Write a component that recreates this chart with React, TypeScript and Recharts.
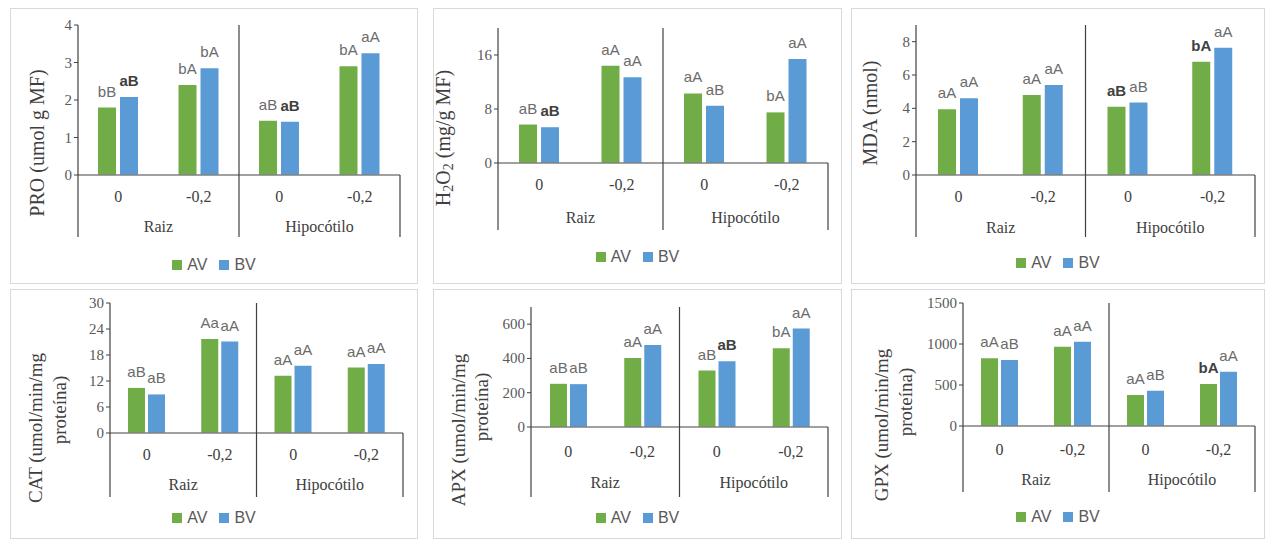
import React from 'react';
import { BarChart, Bar, XAxis, YAxis, LabelList, Label } from 'recharts';

// ---------- data ----------
const categories = ['0', '-0,2', '0', '-0,2'];
const groups = ['Raiz', 'Raiz', 'Hipocótilo', 'Hipocótilo'];
const seriesNames = ['AV', 'BV'];

const proAV = [1.8, 2.4, 1.45, 2.9];
const proBV = [2.08, 2.85, 1.42, 3.25];
const proAVLabels = ['bB', 'bA', 'aB', 'bA'];
const proBVLabels = ['aB', 'bA', 'aB', 'aA'];
const proTicks = [0, 1, 2, 3, 4];

const h2o2AV = [5.7, 14.4, 10.3, 7.5];
const h2o2BV = [5.3, 12.7, 8.5, 15.4];
const h2o2AVLabels = ['aB', 'aA', 'aA', 'bA'];
const h2o2BVLabels = ['aB', 'aA', 'aB', 'aA'];
const h2o2Ticks = [0, 8, 16];

const mdaAV = [3.94, 4.8, 4.1, 6.8];
const mdaBV = [4.6, 5.4, 4.35, 7.64];
const mdaAVLabels = ['aA', 'aA', 'aB', 'bA'];
const mdaBVLabels = ['aA', 'aA', 'aB', 'aA'];
const mdaTicks = [0, 2, 4, 6, 8];

const catAV = [10.4, 21.7, 13.2, 15.1];
const catBV = [8.9, 21.1, 15.5, 15.9];
const catAVLabels = ['aB', 'Aa', 'aA', 'aA'];
const catBVLabels = ['aB', 'aA', 'aA', 'aA'];
const catTicks = [0, 6, 12, 18, 24, 30];

const apxAV = [252, 402, 329, 460];
const apxBV = [250, 479, 383, 574];
const apxAVLabels = ['aB', 'aA', 'aB', 'bA'];
const apxBVLabels = ['aB', 'aA', 'aB', 'aA'];
const apxTicks = [0, 200, 400, 600];

const gpxAV = [825, 967, 378, 512];
const gpxBV = [805, 1028, 430, 662];
const gpxAVLabels = ['aA', 'aA', 'aA', 'bA'];
const gpxBVLabels = ['aB', 'aA', 'aB', 'aA'];
const gpxTicks = [0, 500, 1000, 1500];

// ---------- styles / layout ----------
const GREEN = '#70AD47';
const BLUE = '#5B9BD5';
const SERIF = "'Liberation Serif', 'Times New Roman', serif";
const SANS = "'Liberation Sans', Arial, sans-serif";

type Layout = {
  l: number; t: number; w: number; h: number;
  axisX: number; right: number; top: number; zero: number; catBottom: number;
  subY: number; groupY: number; legendY: number;
  labelX: number[]; labelY: number[]; labelSize: number;
  barSize: number; barGap: number; avBold: number[]; bvBold: number[];
};

type Panel = {
  av: number[]; bv: number[]; avL: string[]; bvL: string[];
  ticks: number[]; max: number; ylabel: string[]; sub?: boolean; layout: Layout;
};

const panels: Panel[] = [
  {
    av: proAV, bv: proBV, avL: proAVLabels, bvL: proBVLabels, ticks: proTicks, max: 4,
    ylabel: ['PRO (umol g MF)'],
    layout: { l: 10, t: 8, w: 408, h: 276, axisX: 78, right: 400, top: 25, zero: 175, catBottom: 237,
      subY: 202, groupY: 232, legendY: 265, labelX: [37], labelY: [143], labelSize: 20,
      barSize: 18, barGap: 4, avBold: [], bvBold: [0, 2] },
  },
  {
    av: h2o2AV, bv: h2o2BV, avL: h2o2AVLabels, bvL: h2o2BVLabels, ticks: h2o2Ticks, max: 20,
    ylabel: ['H2O2 (mg/g MF)'], sub: true,
    layout: { l: 433, t: 8, w: 409, h: 276, axisX: 498, right: 828, top: 28, zero: 163, catBottom: 230,
      subY: 190, groupY: 223, legendY: 257, labelX: [443], labelY: [138], labelSize: 20,
      barSize: 18, barGap: 4, avBold: [], bvBold: [0] },
  },
  {
    av: mdaAV, bv: mdaBV, avL: mdaAVLabels, bvL: mdaBVLabels, ticks: mdaTicks, max: 9,
    ylabel: ['MDA (nmol)'],
    layout: { l: 851, t: 8, w: 414, h: 276, axisX: 916, right: 1255, top: 25, zero: 175, catBottom: 237,
      subY: 202, groupY: 233, legendY: 263, labelX: [870], labelY: [113], labelSize: 20,
      barSize: 18, barGap: 4, avBold: [2, 3], bvBold: [] },
  },
  {
    av: catAV, bv: catBV, avL: catAVLabels, bvL: catBVLabels, ticks: catTicks, max: 30,
    ylabel: ['CAT (umol/min/mg', 'proteína)'],
    layout: { l: 10, t: 289, w: 408, h: 250, axisX: 110, right: 403, top: 303, zero: 433, catBottom: 497,
      subY: 460, groupY: 490, legendY: 518, labelX: [35, 59], labelY: [428, 410], labelSize: 19,
      barSize: 17, barGap: 3, avBold: [], bvBold: [] },
  },
  {
    av: apxAV, bv: apxBV, avL: apxAVLabels, bvL: apxBVLabels, ticks: apxTicks, max: 700,
    ylabel: ['APX (umol/min/mg', 'proteína)'],
    layout: { l: 433, t: 289, w: 409, h: 250, axisX: 531, right: 828, top: 307, zero: 427, catBottom: 497,
      subY: 457, groupY: 488, legendY: 518, labelX: [458, 481], labelY: [430, 407], labelSize: 19,
      barSize: 17, barGap: 3, avBold: [], bvBold: [2] },
  },
  {
    av: gpxAV, bv: gpxBV, avL: gpxAVLabels, bvL: gpxBVLabels, ticks: gpxTicks, max: 1500,
    ylabel: ['GPX (umol/min/mg', 'proteína)'],
    layout: { l: 851, t: 289, w: 414, h: 250, axisX: 963, right: 1255, top: 303, zero: 426, catBottom: 492,
      subY: 455, groupY: 485, legendY: 517, labelX: [881, 905], labelY: [425, 402], labelSize: 19,
      barSize: 17, barGap: 3, avBold: [3], bvBold: [] },
  },
];

const AXIS_DARK = '#404040';

function makeTick(L: Layout) {
  const band = (L.right - L.axisX) / 4;
  const top = L.top - L.t;
  const zero = L.zero - L.t;
  const bottom = L.catBottom - L.t;
  const txt = { fontFamily: SERIF, fontSize: 16 };
  return (props: any) => {
    const { x, index } = props;
    const els: React.ReactNode[] = [];
    els.push(
      <text key="s" x={x} y={L.subY - L.t} textAnchor="middle" fontFamily={SERIF} fontSize={16} fill="#404040" style={txt}>
        {categories[index]}
      </text>
    );
    if (index % 2 === 1) {
      els.push(
        <text key="g" x={x - band / 2} y={L.groupY - L.t} textAnchor="middle" fontFamily={SERIF} fontSize={16} fill="#404040" style={txt}>
          {groups[index]}
        </text>
      );
    }
    if (index === 0) {
      els.push(<line key="l" x1={x - band / 2} x2={x - band / 2} y1={zero} y2={bottom} stroke={AXIS_DARK} strokeWidth={1.2} />);
    }
    if (index === 2) {
      els.push(<line key="d" x1={x - band / 2} x2={x - band / 2} y1={top} y2={bottom} stroke={AXIS_DARK} strokeWidth={1.2} />);
    }
    if (index === 3) {
      els.push(<line key="r" x1={x + band / 2} x2={x + band / 2} y1={zero} y2={bottom} stroke={AXIS_DARK} strokeWidth={1.2} />);
    }
    return <g>{els}</g>;
  };
}

function makeYTick() {
  return (props: any) => {
    const { x, y, payload } = props;
    return (
      <text x={x} y={y} dy={5} textAnchor="end" fontFamily={SERIF} fontSize={15} fill="#595959"
        style={{ fontFamily: SERIF, fontSize: 15 }}>
        {payload.value}
      </text>
    );
  };
}

function makeBarLabel(labels: string[], bold: number[]) {
  return (props: any) => {
    const { x, y, width, index } = props;
    const b = bold.includes(index);
    return (
      <text x={Number(x) + Number(width) / 2} y={Number(y) - 11} textAnchor="middle" fontFamily={SANS}
        fontSize={15} fontWeight={b ? 'bold' : 'normal'} fill={b ? '#404040' : '#6b6b6b'}>
        {labels[index]}
      </text>
    );
  };
}

function YLabel({ p }: { p: Panel }) {
  const L = p.layout;
  return (
    <g>
      {p.ylabel.map((line, i) => {
        const cx = L.labelX[i] - L.l;
        const cy = L.labelY[i] - L.t;
        return (
          <text key={i} x={cx} y={cy} transform={`rotate(-90, ${cx}, ${cy})`} textAnchor="middle"
            dominantBaseline="central" fontFamily={SERIF} fontSize={L.labelSize} fill="#404040"
            style={{ fontFamily: SERIF }}>
            {p.sub ? (
              <>
                H<tspan dy={5} fontSize={14}>2</tspan><tspan dy={-5}>O</tspan><tspan dy={5} fontSize={14}>2</tspan>
                <tspan dy={-5}> (mg/g MF)</tspan>
              </>
            ) : line}
          </text>
        );
      })}
    </g>
  );
}

function PanelChart({ p }: { p: Panel }) {
  const L = p.layout;
  const data = categories.map((c, i) => ({
    id: `${groups[i]} ${c}`,
    av: p.av[i],
    bv: p.bv[i],
  }));
  const yAxisWidth = L.axisX - L.l;
  const xAxisHeight = L.catBottom - L.zero;
  const margin = {
    top: L.top - L.t,
    right: L.l + L.w - L.right,
    left: 0,
    bottom: L.t + L.h - L.catBottom,
  };
  return (
    <>
      <div style={{ position: 'absolute', left: L.l, top: L.t, width: L.w - 2, height: L.h - 2,
        border: '1px solid #d9d9d9', boxSizing: 'content-box' }} />
      <div style={{ position: 'absolute', left: L.l, top: L.t }}>
        <BarChart width={L.w} height={L.h} data={data} margin={margin} barGap={L.barGap}>
          <XAxis dataKey="id" interval={0} height={xAxisHeight} tickLine={false}
            axisLine={{ stroke: '#808080', strokeWidth: 1.5 }} tick={makeTick(L)} />
          <YAxis type="number" domain={[0, p.max]} ticks={p.ticks} width={yAxisWidth} interval={0}
            tickSize={4} tickLine={{ stroke: AXIS_DARK }} axisLine={{ stroke: AXIS_DARK, strokeWidth: 1.2 }}
            tick={makeYTick()} allowDataOverflow>
            <Label content={() => <YLabel p={p} />} />
          </YAxis>
          <Bar dataKey="av" name={seriesNames[0]} fill={GREEN} barSize={L.barSize} isAnimationActive={false}>
            <LabelList dataKey="av" content={makeBarLabel(p.avL, L.avBold)} />
          </Bar>
          <Bar dataKey="bv" name={seriesNames[1]} fill={BLUE} barSize={L.barSize} isAnimationActive={false}>
            <LabelList dataKey="bv" content={makeBarLabel(p.bvL, L.bvBold)} />
          </Bar>
        </BarChart>
      </div>
      <div style={{ position: 'absolute', left: L.l, width: L.w, top: L.legendY - 10, height: 20,
        display: 'flex', justifyContent: 'center', alignItems: 'center', fontFamily: SANS, fontSize: 16, color: '#595959' }}>
        <span style={{ display: 'inline-block', width: 10, height: 10, background: GREEN, marginRight: 5 }} />
        <span style={{ marginRight: 12 }}>{seriesNames[0]}</span>
        <span style={{ display: 'inline-block', width: 10, height: 10, background: BLUE, marginRight: 5 }} />
        <span>{seriesNames[1]}</span>
      </div>
    </>
  );
}

export default function App() {
  return (
    <div style={{ position: 'absolute', left: 0, top: 0, width: 1273, height: 539, background: '#fff', overflow: 'hidden' }}>
      {panels.map((p, i) => (
        <PanelChart key={i} p={p} />
      ))}
    </div>
  );
}
